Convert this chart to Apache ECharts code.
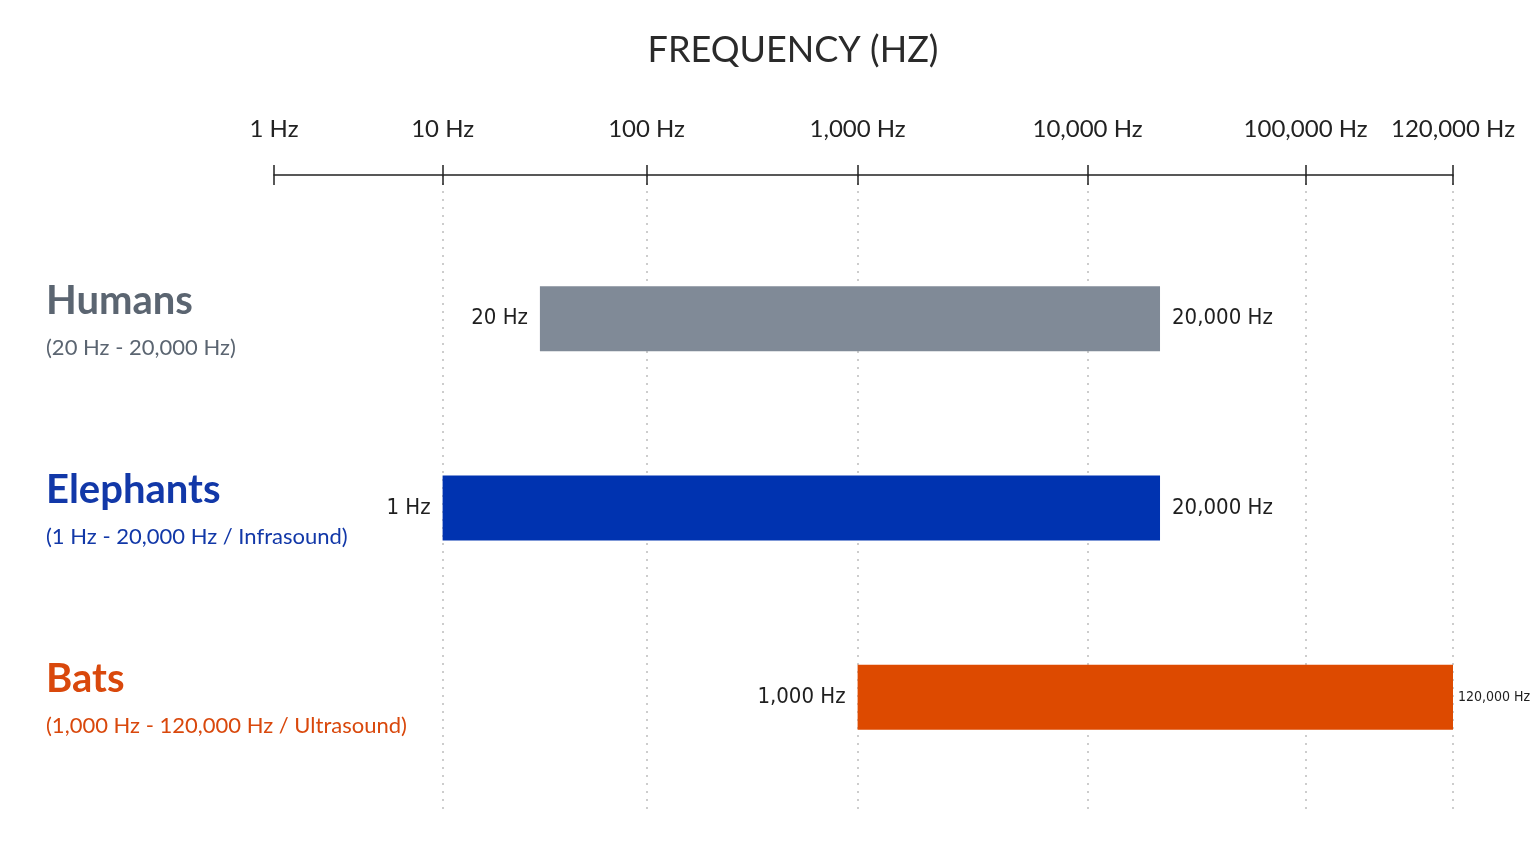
<!DOCTYPE html>
<html>
<head>
<meta charset="utf-8">
<title>Hearing ranges</title>
<script src="https://cdn.jsdelivr.net/npm/echarts@6/dist/echarts.min.js"></script>
<style>
  html, body { margin: 0; background: #fff; }
  #chart { width: 1536px; height: 864px; }
</style>
</head>
<body>
<div id="chart"></div>
<script>
const species = ['Humans', 'Elephants', 'Bats'];
const rangeLow = [20, 1, 1000];
const rangeHigh = [20000, 20000, 120000];
const rangeNote = ['', 'Infrasound', 'Ultrasound'];
// where the bars actually sit when read against the axis
const barLow = [30, 10, 1000];
const barHigh = [21500, 21500, 120000];
const tickHz = [1, 10, 100, 1000, 10000, 100000, 120000];
// the axis is not a true log scale: tick stops in % of axis length
const tickStops = [0, 14.3, 31.6, 49.5, 69.0, 87.5, 100];

const barColors = ['#808a97', '#0033b0', '#dd4a00'];
const nameColors = ['#5b6571', '#1238a8', '#d9480c'];

const cond = "'Liberation Sans Narrow', 'DejaVu Sans Condensed', sans-serif";
const lato = 'Lato, sans-serif';

const hz = v => v.toLocaleString('en-US') + ' Hz';

// frequency -> axis units, log interpolation between tick stops
function toUnit(f) {
    for (let i = 0; i < tickHz.length - 1; i++) {
        const a = tickHz[i], b = tickHz[i + 1];
        if (f <= b || i === tickHz.length - 2) {
            const t = (Math.log10(f) - Math.log10(a)) / (Math.log10(b) - Math.log10(a));
            return tickStops[i] + t * (tickStops[i + 1] - tickStops[i]);
        }
    }
}

const baseData = barLow.map((v, i) => ({
    value: toUnit(v),
    label: { formatter: hz(rangeLow[i]) }
}));
const spanData = barHigh.map((v, i) => ({
    value: toUnit(v) - toUnit(barLow[i]),
    itemStyle: { color: barColors[i] },
    label: i === 2
        ? { formatter: hz(rangeHigh[i]), fontSize: 14, distance: 5 }
        : { formatter: hz(rangeHigh[i]) }
}));

const rich = {};
species.forEach((s, i) => {
    rich['h' + i] = { fontFamily: lato, fontWeight: 'bold', fontSize: 40, lineHeight: 58, color: nameColors[i] };
    rich['s' + i] = { fontFamily: lato, fontSize: 22, lineHeight: 36, color: nameColors[i] };
});

const tickLine = { color: '#222', width: 1.5 };

const chart = echarts.init(document.getElementById('chart'));
chart.setOption({
    backgroundColor: '#fff',
    animation: false,
    title: {
        text: 'FREQUENCY (HZ)',
        left: 793,
        textAlign: 'center',
        top: 32,
        padding: 0,
        textStyle: { fontFamily: lato, fontSize: 36, fontWeight: 'normal', color: '#2a2a2a' }
    },
    grid: [
        { left: 274, right: 83, top: 175, bottom: 51, outerBoundsMode: 'none' },
        { left: 274, right: 83, top: 224, bottom: 72, outerBoundsMode: 'none' },
        { left: 274, right: 83, top: 175, bottom: 51, outerBoundsMode: 'none' }
    ],
    xAxis: [
        {
            gridIndex: 0, type: 'value', position: 'top', min: 0, max: 100,
            axisLine: { show: true, onZero: false, lineStyle: tickLine },
            axisTick: { show: true, customValues: tickStops, length: 10, lineStyle: tickLine },
            axisLabel: {
                customValues: tickStops,
                margin: 34,
                fontFamily: lato, fontSize: 24, color: '#222',
                formatter: v => {
                    let k = 0;
                    tickStops.forEach((s, i) => { if (Math.abs(s - v) < Math.abs(tickStops[k] - v)) k = i; });
                    return hz(tickHz[k]);
                }
            },
            splitLine: {
                show: true, showMinLine: false,
                lineStyle: { color: '#bdbdbd', width: 1.5, type: [2, 6] }
            }
        },
        { gridIndex: 1, type: 'value', min: 0, max: 100, show: false },
        {
            // downward half of the ticks
            gridIndex: 2, type: 'value', position: 'top', min: 0, max: 100,
            axisLine: { show: false, onZero: false },
            axisTick: { show: true, inside: true, customValues: tickStops, length: 10, lineStyle: tickLine },
            axisLabel: { show: false },
            splitLine: { show: false }
        }
    ],
    yAxis: [
        { gridIndex: 0, type: 'value', show: false },
        {
            gridIndex: 1, type: 'category', inverse: true, data: species,
            axisLine: { show: false },
            axisTick: { show: false },
            axisLabel: {
                align: 'left',
                margin: 228,
                formatter: (name, i) => {
                    const note = rangeNote[i] ? ' / ' + rangeNote[i] : '';
                    return '{h' + i + '|' + name + '}\n{s' + i + '|(' + hz(rangeLow[i]) + ' - ' + hz(rangeHigh[i]) + note + ')}';
                },
                rich: rich
            }
        },
        { gridIndex: 2, type: 'value', show: false }
    ],
    series: [
        {
            type: 'bar', xAxisIndex: 1, yAxisIndex: 1, stack: 'range',
            barWidth: 65, silent: true,
            itemStyle: { color: 'rgba(0,0,0,0)' },
            label: {
                show: true, position: 'insideRight', distance: 12,
                fontFamily: cond, fontSize: 22, color: '#1f1f1f'
            },
            data: baseData
        },
        {
            type: 'bar', xAxisIndex: 1, yAxisIndex: 1, stack: 'range',
            barWidth: 65, silent: true,
            label: {
                show: true, position: 'right', distance: 12,
                fontFamily: cond, fontSize: 22, color: '#1f1f1f'
            },
            data: spanData
        }
    ]
});
</script>
</body>
</html>
